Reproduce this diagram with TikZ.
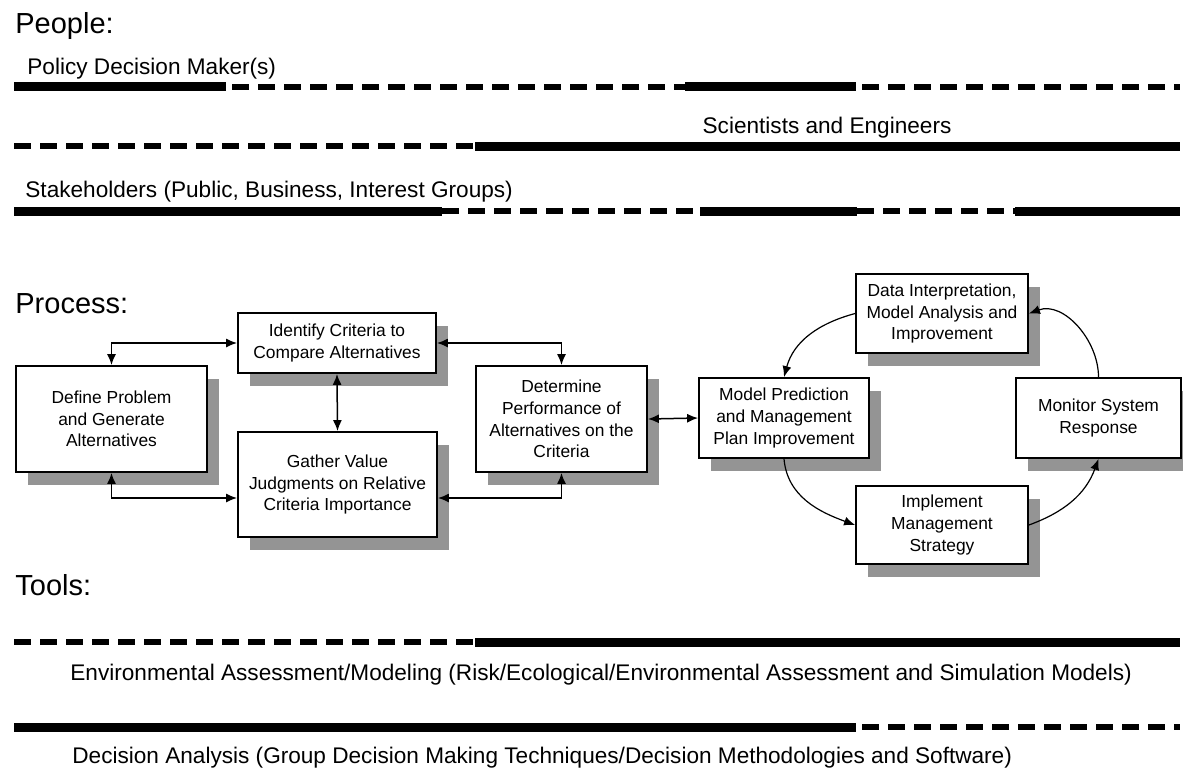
\documentclass[tikz,border=0pt]{standalone}
\usepackage{fontspec}
\setmainfont{Liberation Sans}
\usetikzlibrary{arrows.meta,shadows}

\tikzset{
  heading/.style={anchor=base west,inner sep=0pt,font=\fontsize{14.5}{16}\selectfont},
  rowlabel/.style={anchor=base west,inner sep=0pt,font=\fontsize{11.3}{13}\selectfont},
  fullseg/.style={line width=4.5pt},
  dashseg/.style={line width=3pt,dash pattern=on 8.5pt off 4.5pt},
  procbox/.style={draw,line width=0.9pt,fill=white,align=center,inner sep=2pt,
    font=\fontsize{8.7}{10.85}\selectfont,
    drop shadow={shadow xshift=6pt,shadow yshift=-6.5pt,fill=black!42,opacity=1}},
  link/.style={line width=0.75pt,{Latex[length=5.5pt,width=4.5pt]}-{Latex[length=5.5pt,width=4.5pt]}},
  cyc/.style={line width=0.6pt,-{Latex[length=5.5pt,width=4.5pt]}}
}

\begin{document}
\begin{tikzpicture}[x=0.5pt,y=0.5pt]
    \useasboundingbox (0,0) rectangle (1183,-767);

    % People rows
    \node[heading] (people) at (15,-33) {People:};
    \node[rowlabel] (policy) at (27,-74) {Policy Decision Maker(s)};
    \draw[fullseg] (14,-86.5) -- (226,-86.5);
    \draw[dashseg] (232,-86.5) -- (685,-86.5);
    \draw[fullseg] (685,-86.5) -- (856,-86.5);
    \draw[dashseg] (862,-86.5) -- (1180,-86.5);

    \node[rowlabel,anchor=base] (sci) at (827,-133) {Scientists and Engineers};
    \draw[dashseg] (14,-146) -- (475,-146);
    \draw[fullseg] (475,-146) -- (1180,-146);

    \node[rowlabel] (stake) at (25,-197) {Stakeholders (Public, Business, Interest Groups)};
    \draw[fullseg] (14,-211) -- (442,-211);
    \draw[dashseg] (442,-211) -- (700,-211);
    \draw[fullseg] (700,-211) -- (857,-211);
    \draw[dashseg] (857,-211) -- (1015,-211);
    \draw[fullseg] (1015,-211) -- (1180,-211);

    % Process
    \node[heading] (process) at (15,-313) {Process:};
    \node[procbox,minimum width=95.5pt,minimum height=53pt] (define) at (111.5,-419)
        {Define Problem\\and Generate\\Alternatives};
    \node[procbox,minimum width=99pt,minimum height=30pt] (identify) at (337,-343)
        {Identify Criteria to\\Compare Alternatives};
    \node[procbox,minimum width=99.5pt,minimum height=52.5pt] (gather) at (337.5,-484.5)
        {Gather Value\\Judgments on Relative\\Criteria Importance};
    \node[procbox,minimum width=85.5pt,minimum height=53pt] (determine) at (561.5,-419)
        {Determine\\Performance of\\Alternatives on the\\Criteria};
    \node[procbox,minimum width=85pt,minimum height=40pt] (model) at (784,-418)
        {Model Prediction\\and Management\\Plan Improvement};
    \node[procbox,minimum width=86pt,minimum height=39.5pt] (data) at (942,-313.5)
        {Data Interpretation,\\Model Analysis and\\Improvement};
    \node[procbox,minimum width=82.5pt,minimum height=40pt] (monitor) at (1098.5,-418)
        {Monitor System\\Response};
    \node[procbox,minimum width=86pt,minimum height=39pt] (implement) at (942,-525)
        {Implement\\Management\\Strategy};

    \draw[link] (define.north) |- (identify.west);
    \draw[link] (define.south) |- ([yshift=-6.75pt]gather.west);
    \draw[link] (identify.south) -- (gather.north);
    \draw[link] (identify.east) -| (determine.north);
    \draw[link] ([yshift=-6.75pt]gather.east) -| (determine.south);
    \draw[link] (determine.east) -- (model.west);

    % adaptive cycle
    \draw[cyc] (data.west) to[out=195,in=75] (model.north);
    \draw[cyc] (model.south) to[out=-85,in=160] (implement.west);
    \draw[cyc] (implement.east) to[out=20,in=-110] (monitor.south);
    \draw[cyc] (monitor.north) to[out=90,in=20] (data.east);

    % Tools
    \node[heading] (tools) at (15,-595) {Tools:};
    \draw[dashseg] (14,-642) -- (475,-642);
    \draw[fullseg] (475,-642) -- (1180,-642);
    \node[rowlabel] (envtool) at (70,-680)
        {Environmental Assessment/Modeling (Risk/Ecological/Environmental Assessment and Simulation Models)};
    \draw[fullseg] (14,-727) -- (856,-727);
    \draw[dashseg] (862,-727) -- (1180,-727);
    \node[rowlabel] (dectool) at (72,-763)
        {Decision Analysis (Group Decision Making Techniques/Decision Methodologies and Software)};
\end{tikzpicture}
\end{document}
